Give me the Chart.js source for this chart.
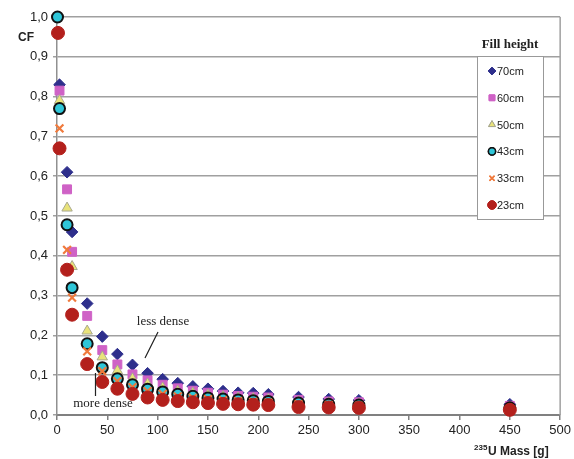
<!DOCTYPE html>
<html>
<head>
<meta charset="utf-8">
<script src="https://cdn.jsdelivr.net/npm/chart.js@4"></script>
<style>
  body { margin: 0; background: #fff; }
  #wrap { width: 574px; height: 459px; }
</style>
</head>
<body>
<div id="wrap"><canvas id="cfChart" width="574" height="459"></canvas></div>
<script>
// 235U mass [g] at which CF was computed
var mass = [2.5, 10, 15, 30, 45, 60, 75, 90, 105, 120, 135, 150, 165, 180, 195, 210, 240, 270, 300, 450];

var cf70 = [0.83, 0.61, 0.46, 0.28, 0.197, 0.153, 0.126, 0.105, 0.09, 0.08, 0.072, 0.066, 0.06, 0.056, 0.055, 0.052, 0.045, 0.04, 0.037, 0.027];
var cf60 = [0.815, 0.567, 0.41, 0.249, 0.163, 0.127, 0.102, 0.087, 0.076, 0.067, 0.061, 0.056, 0.051, 0.048, 0.046, 0.044, 0.038, 0.034, 0.032, 0.023];
var cf50 = [0.79, 0.52, 0.373, 0.211, 0.146, 0.111, 0.091, 0.078, 0.068, 0.06, 0.055, 0.05, 0.046, 0.043, 0.041, 0.039, 0.033, 0.03, 0.028, 0.02];
var cf43 = [0.77, 0.478, 0.32, 0.179, 0.119, 0.091, 0.076, 0.065, 0.058, 0.052, 0.047, 0.043, 0.04, 0.038, 0.036, 0.034, 0.03, 0.027, 0.025, 0.018];
var cf33 = [0.72, 0.415, 0.295, 0.16, 0.11, 0.085, 0.07, 0.06, 0.053, 0.047, 0.043, 0.04, 0.037, 0.035, 0.033, 0.031, 0.027, 0.025, 0.023, 0.016];
var cf23 = [0.67, 0.365, 0.252, 0.128, 0.083, 0.066, 0.053, 0.044, 0.038, 0.035, 0.032, 0.03, 0.028, 0.027, 0.026, 0.025, 0.02, 0.019, 0.018, 0.013];

// extra points very close to zero mass
var mass0 = [0.5, 1];
var cf0 = [1.0, 0.96];   // 43cm, 23cm

var labels = ['70cm', '60cm', '50cm', '43cm', '33cm', '23cm'];
var yTicks = [0, 0.1, 0.2, 0.3, 0.4, 0.5, 0.6, 0.7, 0.8, 0.9, 1.0];

function pts(xs, ys) {
    var out = [];
    for (var i = 0; i < xs.length; i++) out.push({ x: xs[i], y: ys[i] });
    return out;
}

var styles = [
    { pointStyle: 'rectRot', radius: 5.8, bg: '#2e2f8c', border: '#2e2f8c', bw: 1 },
    { pointStyle: 'rect', radius: 6.3, bg: '#cf62c6', border: '#cf62c6', bw: 1 },
    { pointStyle: 'triangle', radius: 6, bg: '#e9e37a', border: '#a8a890', bw: 1 },
    { pointStyle: 'circle', radius: 5.5, bg: '#2fc6d8', border: '#111111', bw: 2 },
    { pointStyle: 'crossRot', radius: 5.5, bg: '#f07a3c', border: '#f07a3c', bw: 2.2 },
    { pointStyle: 'circle', radius: 6.5, bg: '#b3201c', border: '#b3201c', bw: 1 }
];

var series = [cf70, cf60, cf50, cf43, cf33, cf23];
var datasets = [];
for (var s = 0; s < series.length; s++) {
    var d = pts(mass, series[s]);
    if (s === 3) d.unshift({ x: mass0[0], y: cf0[0] });
    if (s === 5) d.unshift({ x: mass0[1], y: cf0[1] });
    datasets.push({
        label: labels[s],
        data: d,
        order: series.length - s, // later series on top
        pointStyle: styles[s].pointStyle,
        pointRadius: styles[s].radius,
        backgroundColor: styles[s].bg,
        borderColor: styles[s].border,
        pointBorderWidth: styles[s].bw,
        showLine: false,
        clip: false
    });
}

var extras = {
    id: 'extras',
    beforeDatasetsDraw: function(chart) {
        var c = chart.ctx;
        var a = chart.chartArea;
        c.save();
        // right border
        c.strokeStyle = '#a0a0a0';
        c.lineWidth = 1.5;
        c.beginPath();
        c.moveTo(a.right, a.top);
        c.lineTo(a.right, a.bottom);
        c.stroke();
        c.restore();
    },
    afterDraw: function(chart) {
        var c = chart.ctx;
        c.save();
        // axis titles
        c.fillStyle = '#222';
        c.font = 'bold 12px "Liberation Sans", Arial, sans-serif';
        c.textBaseline = 'middle';
        c.textAlign = 'left';
        c.fillText('CF', 18, 38);
        c.font = 'bold 8px "Liberation Sans", Arial, sans-serif';
        c.fillText('235', 474, 448);
        c.font = 'bold 12px "Liberation Sans", Arial, sans-serif';
        c.fillText('U Mass [g]', 488, 452);

        // annotations
        c.font = '13px "Liberation Serif", "Times New Roman", serif';
        c.textAlign = 'center';
        c.fillText('less dense', 163, 322);
        c.fillText('more dense', 103, 404);
        c.strokeStyle = '#222';
        c.lineWidth = 1.2;
        c.beginPath();
        c.moveTo(158, 332);
        c.lineTo(145, 358);
        c.moveTo(95.5, 373);
        c.lineTo(95.5, 396);
        c.stroke();

        // legend
        c.font = 'bold 13px "Liberation Serif", "Times New Roman", serif';
        c.fillText('Fill height', 510, 45);
        c.fillStyle = '#fff';
        c.fillRect(477, 56, 66, 163);
        c.strokeStyle = '#999';
        c.lineWidth = 1;
        c.strokeRect(477.5, 56.5, 66, 163);
        c.font = '11px "Liberation Sans", Arial, sans-serif';
        c.textAlign = 'left';
        for (var i = 0; i < labels.length; i++) {
            var y = 71 + i * 26.8;
            var st = styles[i];
            c.fillStyle = st.bg;
            c.strokeStyle = st.border;
            c.lineWidth = Math.min(st.bw, 1.5);
            Chart.helpers.drawPoint(c, { pointStyle: st.pointStyle, radius: st.radius * 0.65, borderWidth: st.bw }, 492, y);
            c.fill();
            c.stroke();
            c.fillStyle = '#222';
            c.fillText(labels[i], 497, y + 1);
        }
        c.restore();
    }
};

var ctx = document.getElementById('cfChart').getContext('2d');
var cfChart = new Chart(ctx, {
    type: 'scatter',
    data: { datasets: datasets },
    options: {
        responsive: false,
        animation: false,
        layout: { padding: { top: 17, right: 11, left: 0, bottom: 0 } },
        plugins: {
            legend: { display: false },
            tooltip: { enabled: false }
        },
        scales: {
            x: {
                type: 'linear',
                min: 0,
                max: 500,
                ticks: {
                    stepSize: 50,
                    color: '#222',
                    padding: 3,
                    font: { family: '"Liberation Sans", Arial, sans-serif', size: 13 }
                },
                grid: {
                    drawOnChartArea: false,
                    drawTicks: true,
                    tickLength: 5,
                    color: '#808080',
                    lineWidth: 1.5
                },
                border: { color: '#808080', width: 2 },
                afterFit: function(scale) { scale.height = 44; }
            },
            y: {
                min: 0,
                max: 1,
                afterBuildTicks: function(scale) {
                    scale.ticks = yTicks.map(function(v) { return { value: v }; });
                },
                ticks: {
                    color: '#222',
                    padding: 5,
                    font: { family: '"Liberation Sans", Arial, sans-serif', size: 13 },
                    callback: function(v) { return Number(v).toFixed(1).replace('.', ','); }
                },
                grid: {
                    color: '#a0a0a0',
                    lineWidth: 1.5,
                    tickLength: 4
                },
                border: { color: '#909090', width: 1.5 },
                afterFit: function(scale) { scale.width = 57; }
            }
        }
    },
    plugins: [extras]
});
</script>
</body>
</html>
